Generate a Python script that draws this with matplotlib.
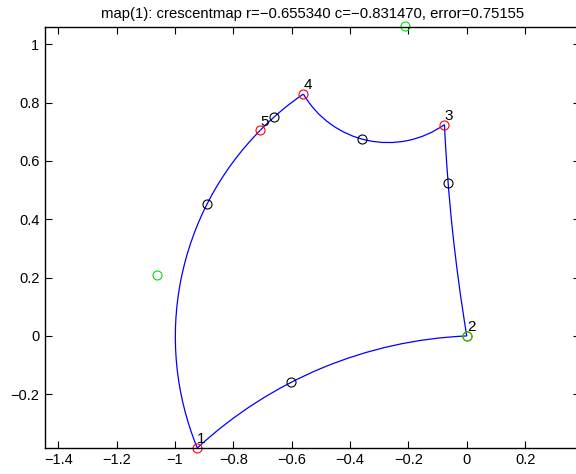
import numpy as np
import matplotlib
matplotlib.use("Agg")
import matplotlib.pyplot as plt
from matplotlib.patches import Arc

plt.rcParams['font.family'] = ['Liberation Sans', 'DejaVu Sans']

# --- vertices of the crescent polygon (red) ---
vert_x = [-0.9236, 0.0, -0.0765, -0.560, -0.7076]
vert_y = [-0.384, 0.0, 0.7245, 0.829, 0.705]
vert_labels = ['1', '2', '3', '4', '5']

# points on each edge (black), edge k runs from vertex k to vertex k+1
mid_x = [-0.602, -0.064, -0.360, -0.661, -0.890]
mid_y = [-0.159, 0.5256, 0.675, 0.750, 0.4525]

# extra points (green)
green_x = [-1.062, -0.211, 0.0]
green_y = [0.209, 1.063, 0.0]

title = "map(1): crescentmap r=\u22120.655340 c=\u22120.831470, error=0.75155"


def circle_through(p1, p2, p3):
    # circumcircle of three points
    ax_, ay_ = p1
    bx, by = p2
    cx, cy = p3
    d = 2 * (ax_ * (by - cy) + bx * (cy - ay_) + cx * (ay_ - by))
    ux = ((ax_**2 + ay_**2) * (by - cy) + (bx**2 + by**2) * (cy - ay_) + (cx**2 + cy**2) * (ay_ - by)) / d
    uy = ((ax_**2 + ay_**2) * (cx - bx) + (bx**2 + by**2) * (ax_ - cx) + (cx**2 + cy**2) * (bx - ax_)) / d
    r = np.hypot(ax_ - ux, ay_ - uy)
    return ux, uy, r


fig = plt.figure(figsize=(5.76, 4.74), dpi=100)
ax = fig.add_axes([0.0781, 0.0555, 0.929, 0.8882])

n = len(vert_x)
for k in range(n):
    p1 = (vert_x[k], vert_y[k])
    pm = (mid_x[k], mid_y[k])
    p2 = (vert_x[(k + 1) % n], vert_y[(k + 1) % n])
    ux, uy, r = circle_through(p1, pm, p2)
    a1 = np.degrees(np.arctan2(p1[1] - uy, p1[0] - ux)) % 360
    am = np.degrees(np.arctan2(pm[1] - uy, pm[0] - ux)) % 360
    a2 = np.degrees(np.arctan2(p2[1] - uy, p2[0] - ux)) % 360
    # pick direction so the arc passes through the middle point
    if (am - a1) % 360 < (a2 - a1) % 360:
        t1, t2 = a1, a2
    else:
        t1, t2 = a2, a1
    ax.add_patch(Arc((ux, uy), 2 * r, 2 * r, theta1=t1, theta2=t2,
                     color='blue', lw=0.9))

ax.plot(mid_x, mid_y, 'o', mfc='none', mec='black', ms=6.5, mew=0.8, clip_on=False)
ax.plot(vert_x, vert_y, 'o', mfc='none', mec='red', ms=6.5, mew=0.8, clip_on=False)
ax.plot(green_x, green_y, 'o', mfc='none', mec='#00e000', ms=6.5, mew=0.8, clip_on=False)

for x, y, s in zip(vert_x, vert_y, vert_labels):
    ax.text(x, y + 0.03, s, ha='left', va='center', fontsize=11)

ax.set_xlim(-1.4457, 0.3884)
ax.set_ylim(-0.383, 1.060)
ax.set_xticks([-1.4, -1.2, -1, -0.8, -0.6, -0.4, -0.2, 0, 0.2])
ax.set_xticklabels(['\u22121.4', '\u22121.2', '\u22121', '\u22120.8', '\u22120.6',
                    '\u22120.4', '\u22120.2', '0', '0.2'])
ax.set_yticks([-0.2, 0, 0.2, 0.4, 0.6, 0.8, 1])
ax.set_yticklabels(['\u22120.2', '0', '0.2', '0.4', '0.6', '0.8', '1'])
ax.tick_params(direction='in', length=5, width=0.8, top=True, right=True,
               labelsize=10.5, pad=4)
for sp in ax.spines.values():
    sp.set_linewidth(1.0)

ax.set_title(title, fontsize=10.7, pad=6)

fig.savefig("out.png", dpi=100)
